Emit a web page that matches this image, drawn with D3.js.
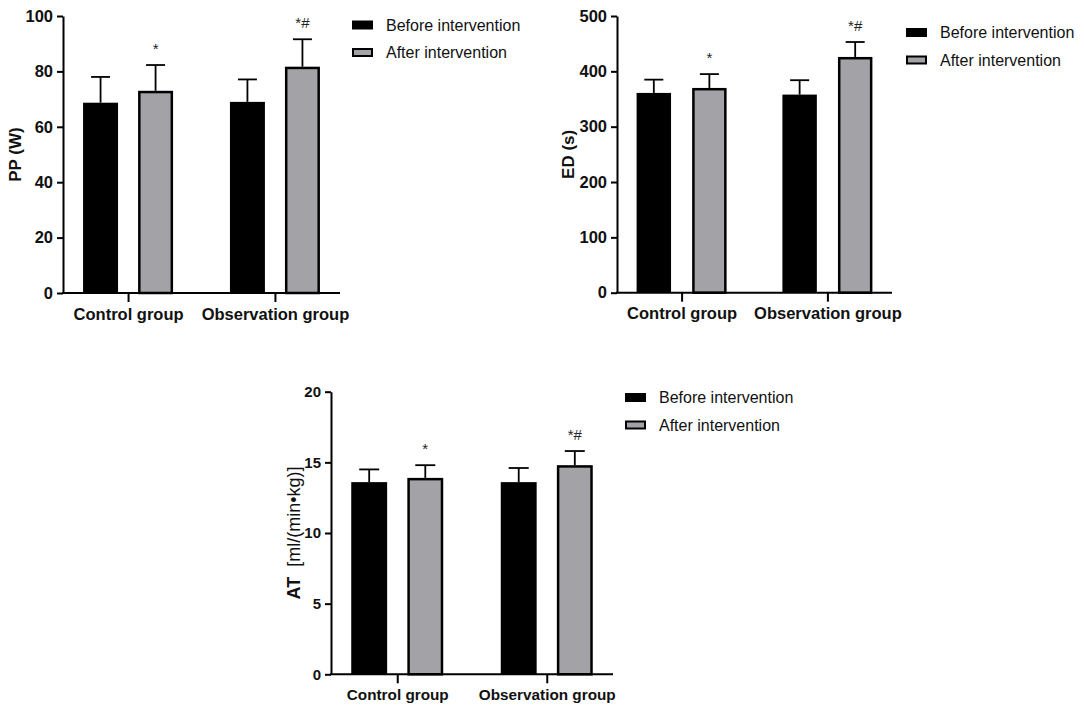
<!DOCTYPE html>
<html><head><meta charset="utf-8">
<script src="https://cdn.jsdelivr.net/npm/d3@7"></script>
<style>body{margin:0;background:#fff} svg{display:block}</style>
</head><body>
<svg id="chart" width="1084" height="710"></svg>
<script>
// ---- data ----
const groups = ["Control group", "Observation group"];
const seriesNames = ["Before intervention", "After intervention"];
const afterMarks = ["*", "*#"];

const ppBefore = [68.7, 69.0], ppBeforeSD = [9.3, 8.1];
const ppAfter  = [73.0, 81.7], ppAfterSD  = [9.3, 9.9];
const ppTicks  = [0, 20, 40, 60, 80, 100];

const edBefore = [361, 358], edBeforeSD = [24, 26];
const edAfter  = [370, 426], edAfterSD  = [25, 27];
const edTicks  = [0, 100, 200, 300, 400, 500];

const atBefore = [13.6, 13.6], atBeforeSD = [0.9, 1.0];
const atAfter  = [13.9, 14.8], atAfterSD  = [0.9, 1.0];
const atTicks  = [0, 5, 10, 15, 20];

// ---- drawing ----
const svg = d3.select("#chart");
const FONT = "'Liberation Sans', Arial, Helvetica, sans-serif";
const GRAY = "#a3a3a7";

function panel(cfg) {
  const g = svg.append("g");
  const y = d3.scaleLinear().domain([0, d3.max(cfg.ticks)]).range([cfg.y1, cfg.y0]);
  const x = d3.scalePoint().domain(groups).range([cfg.x0, cfg.x1]).padding(0.443);
  const sub = d3.scaleBand().domain(seriesNames).range([-cfg.half, cfg.half]).paddingInner(cfg.pin);
  const bw = sub.bandwidth();

  const rows = [];
  groups.forEach((grp, i) => {
    rows.push({grp, s: seriesNames[0], v: cfg.before[i], sd: cfg.beforeSD[i], mark: ""});
    rows.push({grp, s: seriesNames[1], v: cfg.after[i], sd: cfg.afterSD[i], mark: afterMarks[i]});
  });

  // error bars (behind bars)
  const eb = g.append("g").attr("stroke", "#000").attr("stroke-width", 1.8);
  rows.forEach(d => {
    const cx = x(d.grp) + sub(d.s) + bw / 2;
    eb.append("line").attr("x1", cx).attr("x2", cx).attr("y1", y(d.v)).attr("y2", y(d.v + d.sd));
    eb.append("line").attr("x1", cx - cfg.cap / 2).attr("x2", cx + cfg.cap / 2)
      .attr("y1", y(d.v + d.sd)).attr("y2", y(d.v + d.sd));
  });

  // bars
  g.append("g").selectAll("rect").data(rows).join("rect")
    .attr("x", d => x(d.grp) + sub(d.s) + (d.s === seriesNames[1] ? 1.25 : 0))
    .attr("width", d => bw - (d.s === seriesNames[1] ? 2.5 : 0))
    .attr("y", d => y(d.v) + (d.s === seriesNames[1] ? 1.25 : 0))
    .attr("height", d => y(0) - y(d.v) - (d.s === seriesNames[1] ? 1.25 : 0))
    .attr("fill", d => d.s === seriesNames[0] ? "#000" : GRAY)
    .attr("stroke", d => d.s === seriesNames[0] ? "none" : "#000")
    .attr("stroke-width", 2.5);

  // significance marks
  g.append("g").selectAll("text").data(rows.filter(d => d.mark)).join("text")
    .attr("x", d => x(d.grp) + sub(d.s) + bw / 2)
    .attr("y", d => y(d.v + d.sd) - 11)
    .attr("text-anchor", "middle")
    .attr("font-family", FONT).attr("font-size", 15).attr("fill", "#222")
    .text(d => d.mark);

  // y axis
  const ya = g.append("g").attr("transform", `translate(${cfg.x0},0)`)
    .call(d3.axisLeft(y).tickValues(cfg.ticks).tickSize(6).tickSizeOuter(0).tickPadding(4));
  ya.selectAll("path,line").attr("stroke", "#000").attr("stroke-width", 2);
  ya.selectAll("text").attr("font-family", FONT).attr("font-weight", "bold")
    .attr("font-size", cfg.tickFs).attr("fill", "#111");

  // x axis
  const xa = g.append("g").attr("transform", `translate(0,${cfg.y1})`)
    .call(d3.axisBottom(x).tickSize(9).tickSizeOuter(0).tickPadding(6));
  xa.select(".domain").attr("d", `M${cfg.x0 - 1},0H${cfg.x1}`);
  xa.selectAll("path,line").attr("stroke", "#000").attr("stroke-width", 2);
  xa.selectAll("text").attr("font-family", FONT).attr("font-weight", "bold")
    .attr("font-size", cfg.xFs).attr("fill", "#111");

  // y label
  const yl = g.append("text")
    .attr("transform", `translate(${cfg.ylx},${(cfg.y0 + cfg.y1) / 2}) rotate(-90)`)
    .attr("text-anchor", "middle").attr("font-family", FONT)
    .attr("font-size", cfg.yFs).attr("fill", "#111");
  yl.append("tspan").attr("font-weight", "bold").text(cfg.ylabel[0]);
  if (cfg.ylabel[1]) yl.append("tspan").attr("font-weight", "normal").text("\u00a0\u00a0" + cfg.ylabel[1]);

  // legend
  const lg = g.append("g").attr("transform", `translate(${cfg.lx},${cfg.ly})`);
  seriesNames.forEach((s, i) => {
    const yy = i * 27.5;
    if (i === 0) lg.append("rect").attr("x", 0).attr("y", yy - 4.5).attr("width", 21).attr("height", 9).attr("fill", "#000");
    else lg.append("rect").attr("x", 1).attr("y", yy - 3.5).attr("width", 19).attr("height", 7)
      .attr("fill", GRAY).attr("stroke", "#000").attr("stroke-width", 2);
    lg.append("text").attr("x", 34).attr("y", yy + 5.5).attr("font-family", FONT)
      .attr("font-size", 16).attr("fill", "#111").text(s);
  });
}

panel({x0: 63, x1: 340, y0: 16, y1: 293, half: 45, pin: 0.364, cap: 19,
  before: ppBefore, beforeSD: ppBeforeSD, after: ppAfter, afterSD: ppAfterSD, ticks: ppTicks,
  ylabel: ["PP (W)"], ylx: 21, tickFs: 16.5, xFs: 16.5, yFs: 17, lx: 352, ly: 25});

panel({x0: 617, x1: 892, y0: 16, y1: 292.7, half: 45, pin: 0.38, cap: 19,
  before: edBefore, beforeSD: edBeforeSD, after: edAfter, afterSD: edAfterSD, ticks: edTicks,
  ylabel: ["ED (s)"], ylx: 574, tickFs: 16.5, xFs: 16.5, yFs: 17, lx: 906, ly: 32.5});

panel({x0: 331, x1: 613, y0: 391.7, y1: 674.3, half: 46, pin: 0.36, cap: 20,
  before: atBefore, beforeSD: atBeforeSD, after: atAfter, afterSD: atAfterSD, ticks: atTicks,
  ylabel: ["AT", "[ml/(min\u2022kg)]"], ylx: 300, tickFs: 15, xFs: 15.3, yFs: 18, lx: 625, ly: 397.5});
</script>
</body></html>
